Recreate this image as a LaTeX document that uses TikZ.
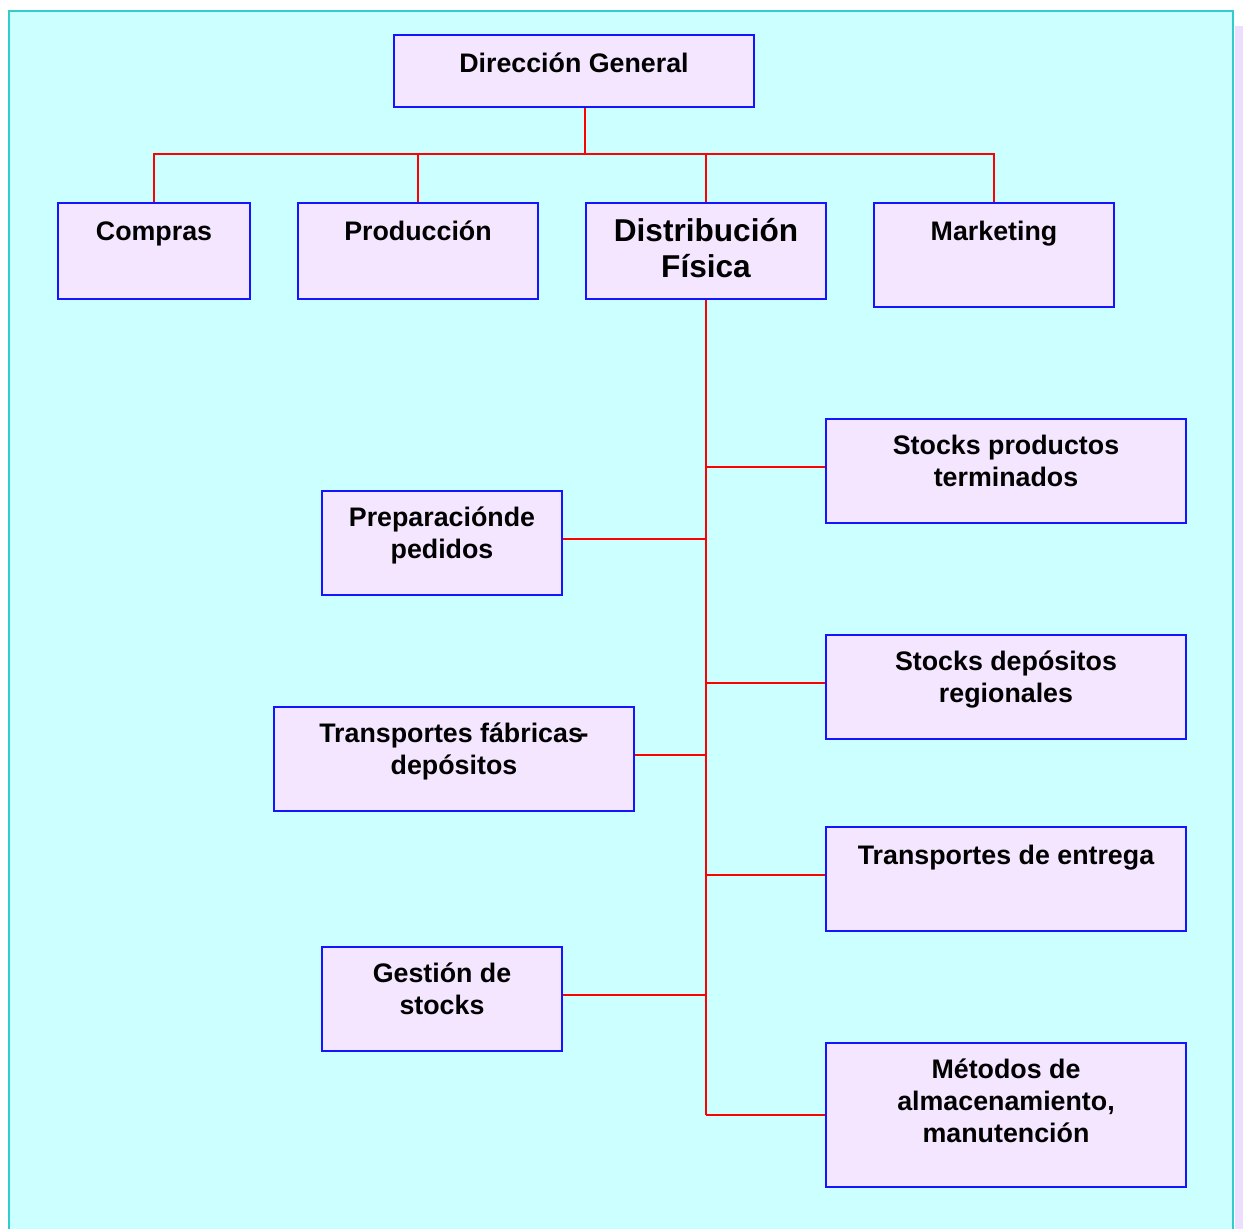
\documentclass[tikz,border=0pt]{standalone}
\usepackage{fontspec}
\setmainfont{Liberation Sans}
\usetikzlibrary{backgrounds}
\definecolor{panelfill}{HTML}{CCFFFF}
\definecolor{paneledge}{HTML}{33CCCC}
\definecolor{stripfill}{HTML}{EEDDFF}
\definecolor{boxfill}{HTML}{F5E6FF}
\definecolor{boxedge}{HTML}{1414FF}
\definecolor{linkred}{HTML}{FF0000}
\begin{document}
\begin{tikzpicture}[x=0.5pt,y=-0.5pt,
  orgbox/.style={draw=boxedge, fill=boxfill, line width=1pt, inner sep=0pt,
    anchor=north west, font=\bfseries\fontsize{13.4}{16}\selectfont},
  bigbox/.style={orgbox, font=\bfseries\fontsize{15.8}{18}\selectfont},
  link/.style={draw=linkred, line width=1pt}]
\useasboundingbox (0,0) rectangle (1243,1229);

% top level
\node[orgbox, text depth=17.25pt] (dg) at (393,34)
  {\parbox[t]{180pt}{\centering\rule{0pt}{18.75pt}Dirección General}};

% departments
\node[orgbox, text depth=29.25pt] (cmp) at (57,202)
  {\parbox[t]{96pt}{\centering\rule{0pt}{18.75pt}Compras}};
\node[orgbox, text depth=29.25pt] (prd) at (297,202)
  {\parbox[t]{120pt}{\centering\rule{0pt}{18.75pt}Producción}};
\node[bigbox, text depth=28.5pt] (dfi) at (585,202)
  {\parbox[t]{120pt}{\centering\rule{0pt}{19.5pt}Distribución\\Física}};
\node[orgbox, text depth=33.25pt] (mkt) at (873,202)
  {\parbox[t]{120pt}{\centering\rule{0pt}{18.75pt}Marketing}};

% physical distribution functions
\node[orgbox, text depth=34.25pt] (spt) at (825,418)
  {\parbox[t]{180pt}{\centering\rule{0pt}{17.75pt}Stocks productos\\terminados}};
\node[orgbox, text depth=34.25pt] (ppd) at (321,490)
  {\parbox[t]{120pt}{\centering\rule{0pt}{17.75pt}Preparaciónde\\pedidos}};
\node[orgbox, text depth=34.25pt] (sdr) at (825,634)
  {\parbox[t]{180pt}{\centering\rule{0pt}{17.75pt}Stocks depósitos\\regionales}};
\node[orgbox, text depth=34.25pt] (tfd) at (273,706)
  {\parbox[t]{180pt}{\centering\rule{0pt}{17.75pt}Transportes fábricas\kern-0.12em-\\depósitos}};
\node[orgbox, text depth=33.25pt] (tde) at (825,826)
  {\parbox[t]{180pt}{\centering\rule{0pt}{18.75pt}Transportes de entrega}};
\node[orgbox, text depth=34.25pt] (gst) at (321,946)
  {\parbox[t]{120pt}{\centering\rule{0pt}{17.75pt}Gestión de\\stocks}};
\node[orgbox, text depth=54.25pt] (mal) at (825,1042)
  {\parbox[t]{180pt}{\centering\rule{0pt}{17.75pt}Métodos de\\almacenamiento,\\manutención}};

\begin{scope}[on background layer]
  % page, side strip and panel
  \fill[white] (0,0) rectangle (1243,1229);
  \fill[stripfill] (1235,26) rectangle (1243,1229);
  \draw[draw=paneledge, fill=panelfill, line width=1.25pt] (9,11) rectangle (1233,1240);

  % links from the general direction
  \coordinate (bus) at (585,154);
  \draw[link] (dg.south -| bus) -- (bus);
  \draw[link] (cmp.north) |- (bus);
  \draw[link] (mkt.north) |- (bus);
  \draw[link] (prd.north) -- (prd.north |- bus);
  \draw[link] (dfi.north) -- (dfi.north |- bus);

  % trunk under physical distribution and its branches
  \draw[link] (dfi.south) -- (dfi.south |- mal.west);
  \draw[link] ([yshift=2pt]spt.west) -- ([yshift=2pt]spt.west -| dfi.south);
  \draw[link] ([yshift=2pt]ppd.east) -- ([yshift=2pt]ppd.east -| dfi.south);
  \draw[link] ([yshift=2pt]sdr.west) -- ([yshift=2pt]sdr.west -| dfi.south);
  \draw[link] ([yshift=2pt]tfd.east) -- ([yshift=2pt]tfd.east -| dfi.south);
  \draw[link] ([yshift=2pt]tde.west) -- ([yshift=2pt]tde.west -| dfi.south);
  \draw[link] ([yshift=2pt]gst.east) -- ([yshift=2pt]gst.east -| dfi.south);
  \draw[link] (mal.west) -- (mal.west -| dfi.south);
\end{scope}
\end{tikzpicture}
\end{document}
